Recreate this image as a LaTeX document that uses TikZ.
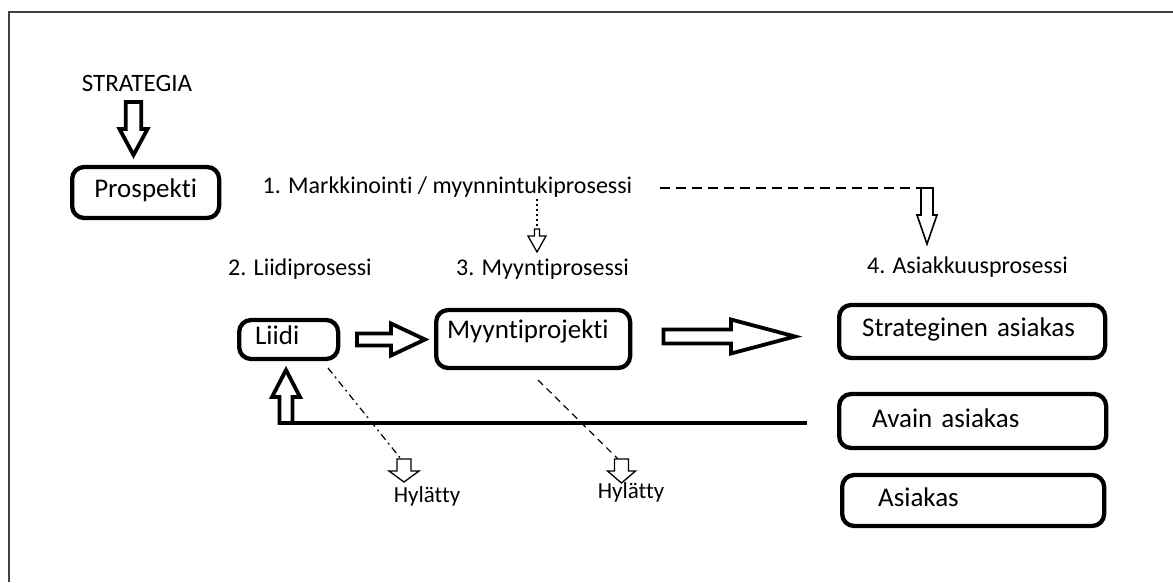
\documentclass[tikz,border=0pt]{standalone}
\usepackage{fontspec}
\setmainfont{Carlito}[Ligatures=NoCommon]
\usetikzlibrary{calc}

% Hollow block arrow from a tail point to a tip point.
% [#1] style, #2 tail, #3 tip, #4 shaft half width, #5 head half width, #6 head length
\newcommand\blockarrow[6][]{%
  \path ($(#3)!#6!(#2)$) coordinate (ba-base);
  \draw[hollow,#1] ($(#2)!#4!90:(#3)$) -- ($(ba-base)!#4!-90:(#2)$)
    -- ($(ba-base)!#5!-90:(#2)$) -- (#3) -- ($(ba-base)!#5!90:(#2)$)
    -- ($(ba-base)!#4!90:(#2)$) -- ($(#2)!#4!-90:(#3)$) -- cycle;
}

\newcommand\boxfont{\fontsize{27}{32}\selectfont}
\newcommand\lblfont{\fontsize{24}{28}\selectfont}

\tikzset{
  rbox/.style={draw, line width=4.3pt, rounded corners=12pt, font=\boxfont,
    anchor=west, align=left, inner ysep=0pt, text height=16pt, text depth=6pt},
  lbl/.style={font=\lblfont, anchor=base, inner sep=0pt},
  hyl/.style={font=\fontsize{23}{26}\selectfont, anchor=base, inner sep=0pt},
  hollow/.style={draw, fill=white, line width=3.8pt, line join=miter},
  thin hollow/.style={hollow, line width=1.3pt},
  frame/.style={draw=black!75, line width=2pt},
}

\begin{document}
\begin{tikzpicture}[x=1pt,y=-1pt]
\useasboundingbox (0,0) rectangle (1173,582);

% outer frame (top and left edges only)
\draw[frame] (1173,12) -- (9,12) -- (9,582);

% labels
\node[lbl, font=\fontsize{25}{29}\selectfont] (strategia) at (137,91) {STRATEGIA};
\node[lbl] (mark) at (447.5,193) {1. Markkinointi / myynnintukiprosessi};
\node[lbl] (liidiproc) at (300,275) {2. Liidiprosessi};
\node[lbl] (myyntiproc) at (542.5,275) {3. Myyntiprosessi};
\node[lbl] (asproc) at (967.5,273) {4. Asiakkuusprosessi};
\node[hyl] (hyl1) at (427,502) {Hylätty};
\node[hyl] (hyl2) at (631,498) {Hylätty};

% boxes
\node[rbox, inner xsep=0pt, text width=147pt, align=center, minimum height=51pt]
  (prospekti) at (70,192.5) {Prospekti};
\node[rbox, inner xsep=16pt, text width=67pt, minimum height=39pt]
  (liidi) at (237,339.5) {\mbox{Liidi}};
\node[rbox, inner xsep=11pt, text width=172pt, minimum height=58pt,
  text height=10pt, text depth=12pt]
  (myynti) at (434,339) {\mbox{Myyntiprojekti}};
\node[rbox, inner xsep=23pt, text width=220pt, minimum height=53pt]
  (strat) at (837,331.5) {\mbox{Strateginen asiakas}};
\node[rbox, inner xsep=33pt, text width=201pt, minimum height=54pt,
  text height=17pt, text depth=5pt]
  (avain) at (837,421) {\mbox{Avain asiakas}};
\node[rbox, inner xsep=36pt, text width=190pt, minimum height=51pt,
  text height=17pt, text depth=5pt]
  (asiakas) at (840,500.5) {\mbox{Asiakas}};

% connector end points
\coordinate (s-tail) at (133.5,102);
\coordinate (s-tip)  at (133.5,155);
\coordinate (lm-tail) at (357,339.5);
\coordinate (lm-tip)  at (425,339.5);
\coordinate (ms-tail) at (663.5,336.5);
\coordinate (ms-tip)  at (795,336.5);
\coordinate (fb-end)    at ($(avain.west)+(-30,2)$);
\coordinate (fb-corner) at (279.5,423);
\coordinate (fb-tail)   at (286,423);
\coordinate (fb-tip)    at (286,370);
\coordinate (d-start) at (537,199);
\coordinate (d-tail)  at (537,229);
\coordinate (d-tip)   at (537,252);
\coordinate (h-start)  at (660,188);
\coordinate (h-corner) at (921,188);
\coordinate (h-tail)   at (927,188);
\coordinate (h-tip)    at (927,244);
\coordinate (r1-start) at (328,368);
\coordinate (r1-end)   at (401,459);
\coordinate (r1-tail)  at (404,459);
\coordinate (r1-tip)   at (404,482);
\coordinate (r2-start) at (538,380);
\coordinate (r2-end)   at (618,459);
\coordinate (r2-tail)  at (621.5,459);
\coordinate (r2-tip)   at (621.5,483);

% strategy feeds prospects
\blockarrow{s-tail}{s-tip}{7.8pt}{14pt}{26pt}

% main flow
\blockarrow{lm-tail}{lm-tip}{6pt}{16pt}{34pt}
\blockarrow{ms-tail}{ms-tip}{7pt}{17pt}{64pt}

% feedback from key customers back to leads
\draw[line width=4.2pt] (fb-end) -- (fb-corner);
\blockarrow{fb-tail}{fb-tip}{6.5pt}{14pt}{27pt}

% marketing support links
\draw[line width=1.4pt, dash pattern=on 1.5pt off 3.5pt] (d-start) -- (d-tail);
\blockarrow[thin hollow]{d-tail}{d-tip}{2.5pt}{9pt}{16pt}
\draw[line width=1.5pt, dash pattern=on 10pt off 6pt] (h-start) -- (h-corner);
\blockarrow[thin hollow, line width=1.6pt]{h-tail}{h-tip}{6pt}{10pt}{29pt}

% rejected leads and projects
\draw[line width=1.2pt, dash pattern=on 7pt off 4pt on 2pt off 4pt] (r1-start) -- (r1-end);
\blockarrow[thin hollow]{r1-tail}{r1-tip}{7pt}{15pt}{11pt}
\draw[line width=1.2pt, dash pattern=on 7pt off 5pt] (r2-start) -- (r2-end);
\blockarrow[thin hollow]{r2-tail}{r2-tip}{7pt}{14pt}{12pt}
\end{tikzpicture}
\end{document}
